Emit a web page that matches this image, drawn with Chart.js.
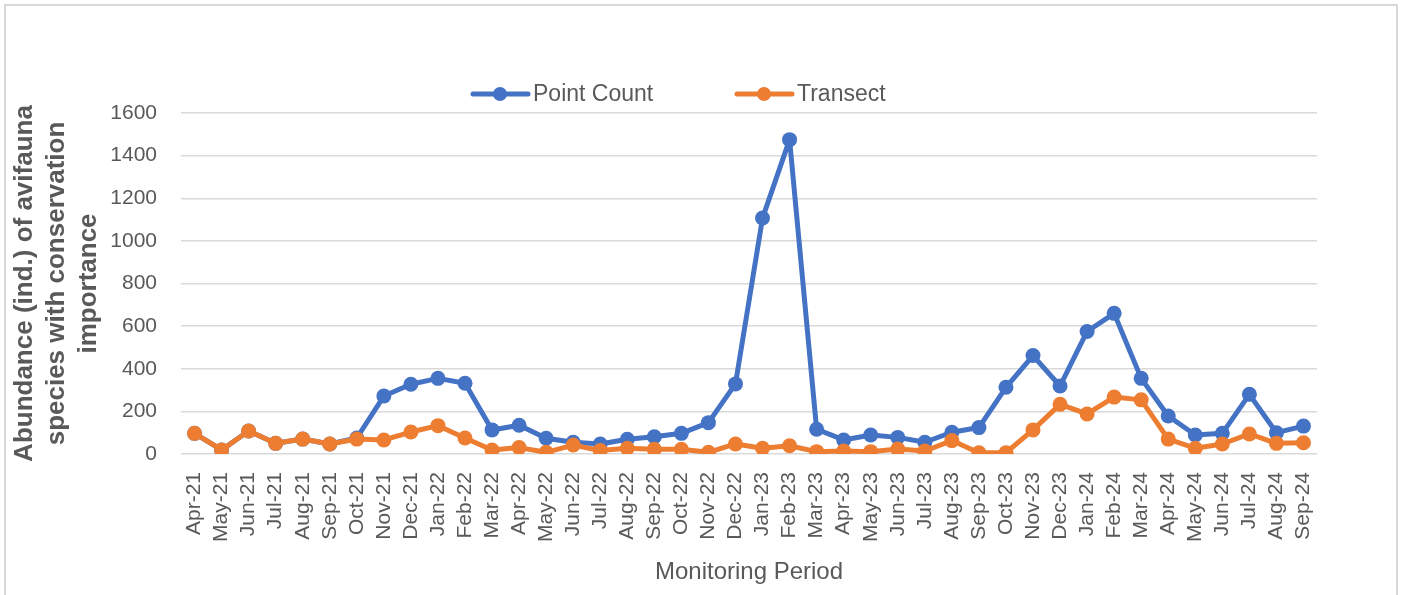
<!DOCTYPE html>
<html>
<head>
<meta charset="utf-8">
<script src="https://cdn.jsdelivr.net/npm/chart.js@4.4.1/dist/chart.umd.min.js"></script>
<style>
  html, body { margin:0; padding:0; background:#fff; }
  #wrap { position:relative; width:1407px; height:595px; overflow:hidden; }
  #frame { position:absolute; left:4px; top:4px; width:1394px; height:620px; border:2px solid #d9d9d9; box-sizing:border-box; }
  canvas { position:absolute; left:0; top:0; }
</style>
</head>
<body>
<div id="wrap">
  <div id="frame"></div>
  <canvas id="chart" width="1407" height="595"></canvas>
</div>
<script>
// data
const months = ['Apr-21','May-21','Jun-21','Jul-21','Aug-21','Sep-21','Oct-21','Nov-21','Dec-21','Jan-22','Feb-22','Mar-22',
  'Apr-22','May-22','Jun-22','Jul-22','Aug-22','Sep-22','Oct-22','Nov-22','Dec-22','Jan-23','Feb-23','Mar-23',
  'Apr-23','May-23','Jun-23','Jul-23','Aug-23','Sep-23','Oct-23','Nov-23','Dec-23','Jan-24','Feb-24','Mar-24',
  'Apr-24','May-24','Jun-24','Jul-24','Aug-24','Sep-24'];
const pointCount = [97,19,108,50,70,47,75,272,327,355,332,113,
  135,74,55,47,69,81,97,147,329,1107,1475,116,
  66,89,78,55,102,124,313,462,319,575,660,355,
  178,89,97,280,100,131];
const transect = [97,19,108,50,70,47,70,66,103,133,75,19,
  30,8,42,16,27,22,22,8,47,27,39,11,
  14,11,23,14,63,6,6,113,233,188,267,254,
  70,27,47,94,50,53];
const yTicks = [0,200,400,600,800,1000,1200,1400,1600];

const FONT = '"Liberation Sans", Arial, sans-serif';
const GREY = '#595959';

// Excel style legend: line with a marker, then label
const legendPlugin = {
  id: 'xlLegend',
  afterDraw(chart){
    const ctx = chart.ctx;
    const items = [{x:473}, {x:737}];
    const y = 94;
    ctx.save();
    chart.data.datasets.forEach((ds, i)=>{
      const x = items[i].x;
      ctx.strokeStyle = ds.borderColor;
      ctx.lineWidth = 5;
      ctx.lineCap = 'round';
      ctx.beginPath(); ctx.moveTo(x, y); ctx.lineTo(x+55, y); ctx.stroke();
      ctx.fillStyle = ds.borderColor;
      ctx.beginPath(); ctx.arc(x+27, y, 7, 0, Math.PI*2); ctx.fill();
      ctx.fillStyle = GREY;
      ctx.font = '23px ' + FONT;
      ctx.textBaseline = 'middle';
      ctx.textAlign = 'left';
      ctx.fillText(ds.label, x+60, y+1);
    });
    ctx.restore();
  }
};

new Chart(document.getElementById('chart'), {
  type: 'line',
  data: {
    labels: months,
    datasets: [
      {label:'Point Count', data:pointCount, order:1, borderColor:'#4472C4', backgroundColor:'#4472C4',
        borderWidth:5, borderJoinStyle:'round', pointRadius:7.5, pointBorderWidth:0, pointBackgroundColor:'#4472C4', tension:0},
      {label:'Transect', data:transect, order:0, borderColor:'#ED7D31', backgroundColor:'#ED7D31',
        borderWidth:5, borderJoinStyle:'round', pointRadius:7.5, pointBorderWidth:0, pointBackgroundColor:'#ED7D31', tension:0}
    ]
  },
  options: {
    responsive: false,
    animation: false,
    layout: { padding: { top:113, right:90, left:0, bottom:0 } },
    plugins: { legend:{display:false}, tooltip:{enabled:false} },
    scales: {
      x: {
        offset: true,
        grid: { display:false, drawTicks:false },
        border: { display:false },
        ticks: { color:GREY, font:{family:FONT, size:21}, minRotation:90, maxRotation:90, autoSkip:false, padding:18 },
        title: { display:true, text:'Monitoring Period', color:GREY, font:{family:FONT, size:24, lineHeight:1.2}, padding:{top:0, bottom:8} },
        afterFit(scale){ scale.height = 141; }
      },
      y: {
        min: 0, max: 1600,
        afterBuildTicks(scale){ scale.ticks = yTicks.map(v=>({value:v})); },
        grid: { color:'#d9d9d9', lineWidth:1.5, drawTicks:false },
        border: { display:false },
        ticks: { color:GREY, font:{family:FONT, size:21}, padding:24, callback:v=>String(v) },
        title: { display:true, text:['Abundance (ind.) of avifauna','species with conservation','importance'],
          color:GREY, font:{family:FONT, size:26, weight:'bold', lineHeight:1.23}, padding:{top:9, bottom:0} },
        afterFit(scale){ scale.width = 181; }
      }
    }
  },
  plugins: [legendPlugin]
});
</script>
</body>
</html>
